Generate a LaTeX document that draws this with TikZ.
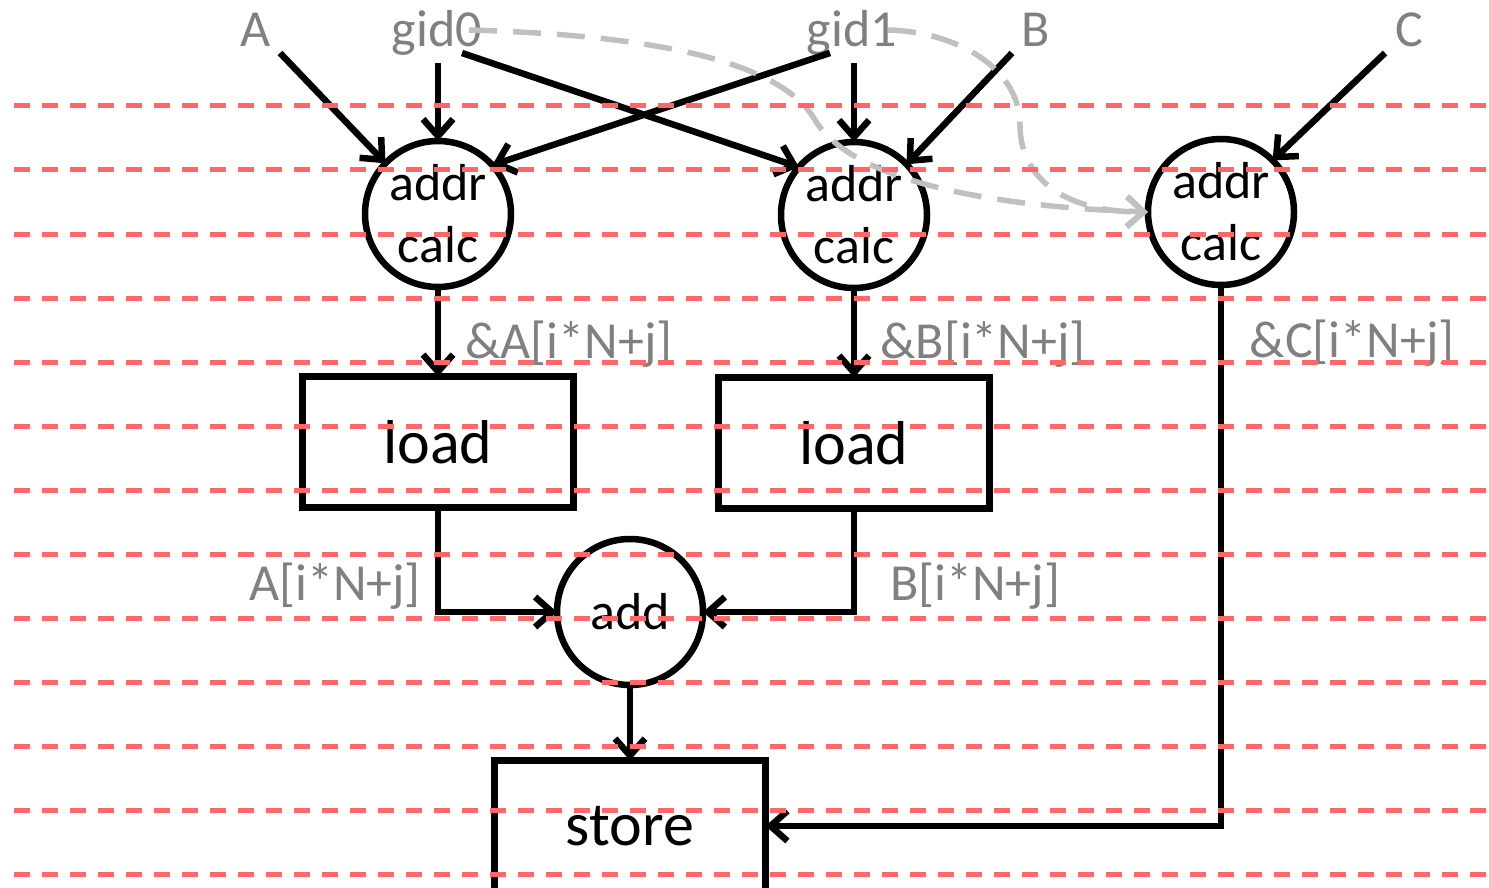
\documentclass[tikz,border=0pt]{standalone}
\usepackage{fontspec}
\setmainfont{Carlito}
\usetikzlibrary{arrows.meta}
\definecolor{lblgray}{HTML}{808080}
\definecolor{ghostgray}{HTML}{C0C0C0}
\definecolor{gridred}{HTML}{FF6666}
\begin{document}
\begin{tikzpicture}[x=1pt,y=-1pt,
  every node/.style={inner sep=0pt, outer sep=0pt},
  op/.style={circle, draw, line width=6.5pt, minimum size=146pt, align=center,
    font=\fontsize{52}{62}\selectfont},
  box/.style={rectangle, draw, line width=6.5pt, minimum width=271pt, minimum height=131pt,
    font=\fontsize{62}{70}\selectfont},
  lbl/.style={text=lblgray, font=\fontsize{52}{62}\selectfont, anchor=base},
  arr/.style={line width=6.5pt, -{Straight Barb[length=17pt,width=30pt]}},
  ghostarr/.style={ghostgray, line width=5.5pt, dash pattern=on 28pt off 16pt,
    -{Straight Barb[length=17pt,width=30pt]}},
  gridline/.style={gridred, line width=5pt, dash pattern=on 16pt off 12pt}
]
\useasboundingbox (0,0) rectangle (1489,888);

% operation nodes
\node[op] (c1) at (438,214) {addr\\calc};
\node[op] (c2) at (854,215) {addr\\calc};
\node[op] (c3) at (1221,212) {addr\\calc};
\node[box] (l1) at (438,442) {load};
\node[box] (l2) at (854,443) {load};
\node[op] (add) at (630,612) {add};
\node[box] (st) at (630,826) {store};

% input labels
\node[lbl] (A) at (256,47) {A};
\node[lbl] (g0) at (437,47) {gid0};
\node[lbl] (g1) at (852,47) {gid1};
\node[lbl] (B) at (1036,47) {B};
\node[lbl] (C) at (1409,47) {C};

% value labels
\node[lbl] (la) at (569,358) {\&A[i*N+j]};
\node[lbl] (lb) at (983,358) {\&B[i*N+j]};
\node[lbl] (lc) at (1352,357) {\&C[i*N+j]};
\node[lbl] (va) at (335,600) {A[i*N+j]};
\node[lbl] (vb) at (975,600) {B[i*N+j]};

% connector start points
\coordinate (A-o) at ([shift={(24,6)}]A.base);
\coordinate (g0-d) at ([shift={(1,16)}]g0.base);
\coordinate (g0-r) at ([shift={(25,6)}]g0.base);
\coordinate (g0-g) at ([shift={(32,-17)}]g0.base);
\coordinate (g1-l) at ([shift={(-22,6)}]g1.base);
\coordinate (g1-d) at ([shift={(2,16)}]g1.base);
\coordinate (g1-g) at ([shift={(36,-17)}]g1.base);
\coordinate (B-o) at ([shift={(-24,6)}]B.base);
\coordinate (C-o) at ([shift={(-24,6)}]C.base);

% black connectors
\draw[arr] (A-o) -- (c1.136);
\draw[arr] (g0-d) -- (c1.north);
\draw[arr] (g0-r) -- (c2.139);
\draw[arr] (g1-l) -- (c1.42);
\draw[arr] (g1-d) -- (c2.north);
\draw[arr] (B-o) -- (c2.44);
\draw[arr] (C-o) -- (c3.45);
\draw[arr] (c1.south) -- (l1.north);
\draw[arr] (c2.south) -- (l2.north);
\draw[arr] (l1.south) |- (add.west);
\draw[arr] (l2.south) |- (add.east);
\draw[arr] (add.south) -- (st.north);
\draw[arr] (c3.south) |- (st.east);

% gray dashed dependencies
\draw[ghostarr] (g0-g) .. controls (650,35) and (780,60) .. (815,120)
  .. controls (845,170) and (950,205) .. (c3.west);
\draw[ghostarr] (g1-g) .. controls (960,32) and (1020,70) .. (1020,125)
  .. controls (1020,175) and (1060,212) .. (c3.west);

% red dashed rows
\foreach \k in {0,...,12}
  \draw[gridline] (14,{106+64*\k}) -- (1489,{106+64*\k});
\end{tikzpicture}
\end{document}
